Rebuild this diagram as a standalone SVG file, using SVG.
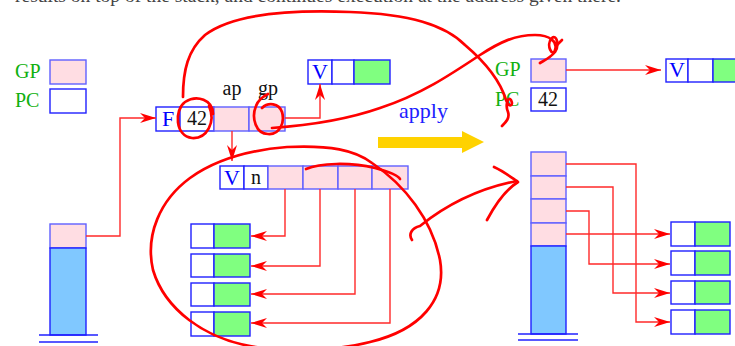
<svg xmlns="http://www.w3.org/2000/svg" width="735" height="346" viewBox="0 0 735 346">
<style>
text{font-family:"Liberation Serif","DejaVu Serif",serif}
.b{stroke:#2020ff;stroke-width:1.4}
.pk{fill:#ffdde3;stroke:#6060ff;stroke-width:1.4}
.w{fill:#fff}
.g{fill:#80ff80}
.sk{fill:#80c8ff}
.lbl{fill:#0000ff;font-size:22px}
.blk{fill:#111;font-size:20px}
.grn{fill:#10b010;font-size:20px}
.con{fill:none;stroke:#ff2a2a;stroke-width:1.4}
.hand{fill:none;stroke:#ff0000;stroke-width:2.7;stroke-linecap:round;stroke-linejoin:round}
</style>
<defs>
<marker id="arr" viewBox="0 0 16 10" refX="16" refY="5" markerWidth="16" markerHeight="10" orient="auto" markerUnits="userSpaceOnUse">
<path d="M0,0 L16,5 L0,10 L5,5 z" fill="#ff0000"/>
</marker>
</defs>
<text x="15" y="2" fill="#444" style="font-size:19.5px">results on top of the stack, and continues execution at the address given there.</text>

<g id="legend-gp"><text x="15" y="78" class="grn">GP</text><rect x="50" y="60" width="36" height="24" class="pk"/></g>
<g id="legend-pc"><text x="15" y="107" class="grn">PC</text><rect x="50" y="89" width="36" height="24" class="w b"/></g>

<g id="frame-f">
<rect x="156" y="107" width="24" height="24" class="w b"/>
<rect x="180" y="107" width="34" height="24" class="w b"/>
<rect x="214" y="107" width="35" height="24" class="pk"/>
<rect x="249" y="107" width="36" height="24" class="pk"/>
<text x="168" y="126" class="lbl" text-anchor="middle">F</text>
<text x="197" y="125" class="blk" text-anchor="middle">42</text>
<text x="232" y="95" class="blk" text-anchor="middle">ap</text>
<text x="268" y="95" class="blk" text-anchor="middle">gp</text>
</g>

<g id="v-top">
<rect x="308" y="60" width="24" height="24" class="w b"/>
<rect x="332" y="60" width="22" height="24" class="w b"/>
<rect x="354" y="60" width="36" height="24" class="g b"/>
<text x="320" y="79" class="lbl" text-anchor="middle">V</text>
</g>

<g id="v-n-row">
<rect x="220" y="166" width="24" height="23" class="w b"/>
<rect x="244" y="166" width="24" height="23" class="w b"/>
<rect x="268" y="166" width="35" height="23" class="pk"/>
<rect x="303" y="166" width="35" height="23" class="pk"/>
<rect x="338" y="166" width="34" height="23" class="pk"/>
<rect x="372" y="166" width="36" height="23" class="pk"/>
<text x="232" y="185" class="lbl" text-anchor="middle">V</text>
<text x="256" y="184" class="blk" text-anchor="middle">n</text>
</g>

<g id="left-boxes">
<rect x="191" y="224" width="23" height="24" class="w b"/><rect x="214" y="224" width="36" height="24" class="g b"/>
<rect x="191" y="254" width="23" height="23" class="w b"/><rect x="214" y="254" width="36" height="23" class="g b"/>
<rect x="191" y="283" width="23" height="23" class="w b"/><rect x="214" y="283" width="36" height="23" class="g b"/>
<rect x="191" y="312" width="23" height="24" class="w b"/><rect x="214" y="312" width="36" height="24" class="g b"/>
</g>

<g id="left-stack">
<rect x="50" y="224" width="36" height="24" class="pk"/>
<rect x="50" y="248" width="36" height="87" class="sk b"/>
<line x1="39" y1="335" x2="98" y2="335" class="b"/>
<line x1="39" y1="342" x2="98" y2="342" class="b"/>
</g>

<g id="apply">
<text x="399" y="118" fill="#2020ff" style="font-size:22px">apply</text>
<polygon points="378,137 462,137 462,131 484,142 462,153 462,148 378,148" fill="#ffd200"/>
</g>

<g id="right-gp"><text x="495" y="76" class="grn">GP</text><rect x="531" y="59" width="35" height="23" class="pk"/></g>
<g id="right-pc"><text x="495" y="106" class="grn">PC</text><rect x="531" y="88" width="35" height="23" class="w b"/><text x="548" y="106" class="blk" text-anchor="middle">42</text></g>

<g id="v-right">
<rect x="666" y="59" width="22" height="23" class="w b"/>
<rect x="688" y="59" width="25" height="23" class="w b"/>
<rect x="713" y="59" width="30" height="23" class="g b"/>
<text x="677" y="77" class="lbl" text-anchor="middle">V</text>
</g>

<g id="right-stack">
<rect x="531" y="152" width="35" height="24" class="pk"/>
<rect x="531" y="176" width="35" height="23" class="pk"/>
<rect x="531" y="199" width="35" height="24" class="pk"/>
<rect x="531" y="223" width="35" height="23" class="pk"/>
<rect x="531" y="246" width="35" height="88" class="sk b"/>
<line x1="518" y1="334" x2="578" y2="334" class="b"/>
<line x1="518" y1="340" x2="578" y2="340" class="b"/>
</g>

<g id="right-boxes">
<rect x="671" y="222" width="24" height="24" class="w b"/><rect x="695" y="222" width="35" height="24" class="g b"/>
<rect x="671" y="251" width="24" height="24" class="w b"/><rect x="695" y="251" width="35" height="24" class="g b"/>
<rect x="671" y="281" width="24" height="23" class="w b"/><rect x="695" y="281" width="35" height="23" class="g b"/>
<rect x="671" y="310" width="24" height="24" class="w b"/><rect x="695" y="310" width="35" height="24" class="g b"/>
</g>

<g id="connectors">
<polyline points="86,236 120,236 120,118 156,118" class="con" marker-end="url(#arr)"/>
<polyline points="285,118 320,118 320,84" class="con" marker-end="url(#arr)"/>
<polyline points="232,131 232,161" class="con" marker-end="url(#arr)"/>
<polyline points="285,189 285,236 251,236" class="con" marker-end="url(#arr)"/>
<polyline points="320,189 320,266 251,266" class="con" marker-end="url(#arr)"/>
<polyline points="355,189 355,294 251,294" class="con" marker-end="url(#arr)"/>
<polyline points="390,189 390,323 251,323" class="con" marker-end="url(#arr)"/>
<polyline points="566,70 661,70" class="con" marker-end="url(#arr)"/>
<polyline points="566,164 636,164 636,322 670,322" class="con" marker-end="url(#arr)"/>
<polyline points="566,187 613,187 613,293 670,293" class="con" marker-end="url(#arr)"/>
<polyline points="566,211 589,211 589,264 670,264" class="con" marker-end="url(#arr)"/>
<polyline points="566,234 670,234" class="con" marker-end="url(#arr)"/>
</g>

<g id="annotations">
<path class="hand" d="M213,114 C213,100 197,94 185,102 C174,110 175,136 192,138 C207,139 216,122 209,106"/>
<path class="hand" d="M183,97 C183,70 188,50 205,35 C235,12 300,10 350,12 C410,14 445,25 465,45 C485,62 500,80 506,100 C509,108 514,106 511,100 C508,96 505,105 508,112 C510,118 506,122 502,126"/>
<path class="hand" d="M268,94 C262,97 258,100 256,106 C251,118 256,134 268,134 C280,135 285,122 282,112 C279,103 268,102 262,108"/>
<path class="hand" d="M272,128 C300,126 340,122 380,108 C420,95 450,75 480,55 C500,42 515,35 535,35 C550,35 558,42 555,50 C553,58 545,45 552,38 C556,34 560,44 555,52 C550,58 545,60 540,63"/>
<path class="hand" d="M556,46 L562,40"/>
<path class="hand" d="M306,169 C320,163 350,162 375,168 C390,172 398,175 400,179"/>
<path class="hand" d="M287,147 C330,145 355,150 372,163 C405,185 432,220 440,260 C447,300 420,330 370,342 C330,352 280,352 250,346 C205,338 165,310 153,270 C145,235 160,200 190,178 C215,160 250,150 287,147"/>
<path class="hand" d="M412,240 C408,234 412,228 420,226 C440,210 470,190 517,181"/>
<path class="hand" d="M494,167 C505,172 512,178 518,182 C505,190 495,205 487,220"/>
</g>
</svg>
